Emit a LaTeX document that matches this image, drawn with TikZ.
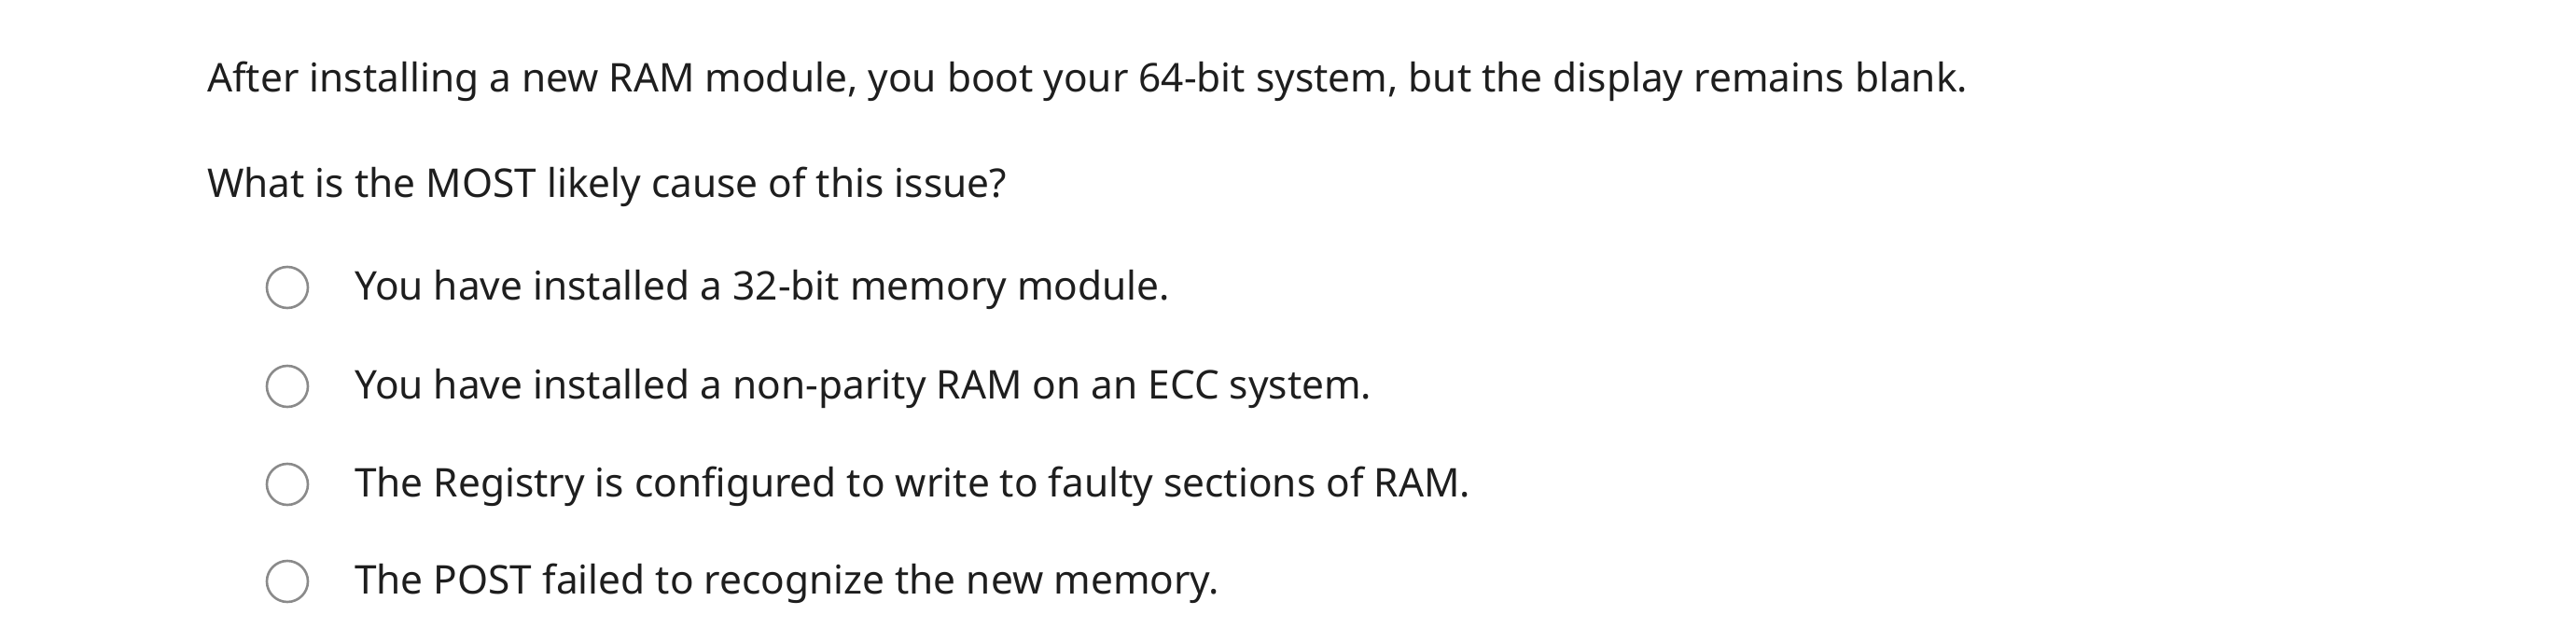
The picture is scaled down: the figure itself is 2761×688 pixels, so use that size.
\documentclass[tikz,border=0pt]{standalone}
\usepackage{fontspec}
\setmainfont{Noto Sans}
\definecolor{txt}{HTML}{1E1E1E}
\definecolor{ring}{HTML}{8A8A8A}
\begin{document}
\begin{tikzpicture}[x=1pt,y=1pt,
  t/.style={anchor=mid west,inner sep=0,text=txt,font=\fontsize{42.4}{50}\selectfont},
  radio/.style={circle,draw=ring,line width=2.6pt,minimum size=44pt,inner sep=0}]
\useasboundingbox[fill=white] (0,0) rectangle (2761,688);
\node[t] (q1) at (222,592) {After installing a new RAM module, you boot your 64-bit system, but the display remains blank.};
\node[t] (q2) at (222,479) {What is the MOST likely cause of this issue?};
\node[radio] (r1) at (308,380) {};
\node[t] (a1) at (380,369) {You have installed a 32-bit memory module.};
\node[radio] (r2) at (308,274) {};
\node[t] (a2) at (380,263) {You have installed a non-parity RAM on an ECC system.};
\node[radio] (r3) at (308,169) {};
\node[t] (a3) at (380,158) {The Registry is configured to write to faulty sections of RAM.};
\node[radio] (r4) at (308,65) {};
\node[t] (a4) at (380,54) {The POST failed to recognize the new memory.};
\end{tikzpicture}
\end{document}
